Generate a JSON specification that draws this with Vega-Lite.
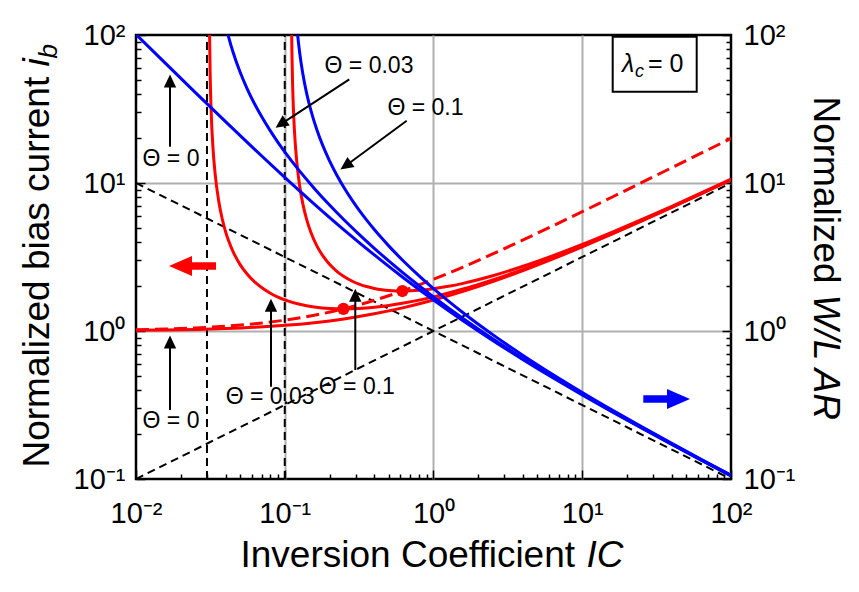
{
  "$schema": "https://vega.github.io/schema/vega-lite/v6.json",
  "width": 595,
  "height": 444,
  "autosize": {"type": "none"},
  "padding": {"left": 136, "top": 35, "right": 128, "bottom": 113},
  "background": "white",
  "datasets": {
    "guides": [
      {"g": "sqrt", "ic": 0.01, "v": 0.1}, {"g": "sqrt", "ic": 100, "v": 10},
      {"g": "isqrt", "ic": 0.01, "v": 10}, {"g": "isqrt", "ic": 100, "v": 0.1},
      {"g": "v003", "ic": 0.03, "v": 0.1}, {"g": "v003", "ic": 0.03, "v": 100},
      {"g": "v01", "ic": 0.1, "v": 0.1}, {"g": "v01", "ic": 0.1, "v": 100}
    ],
    "curves": [
      {"curve": "ibdash", "ic": 0.01, "v": 1.0198}, {"curve": "ibdash", "ic": 0.0158, "v": 1.0311},
      {"curve": "ibdash", "ic": 0.025, "v": 1.0488}, {"curve": "ibdash", "ic": 0.04, "v": 1.077},
      {"curve": "ibdash", "ic": 0.063, "v": 1.1189}, {"curve": "ibdash", "ic": 0.1, "v": 1.1832},
      {"curve": "ibdash", "ic": 0.158, "v": 1.2775}, {"curve": "ibdash", "ic": 0.25, "v": 1.4142},
      {"curve": "ibdash", "ic": 0.4, "v": 1.6125}, {"curve": "ibdash", "ic": 0.63, "v": 1.8762},
      {"curve": "ibdash", "ic": 1, "v": 2.2361}, {"curve": "ibdash", "ic": 1.58, "v": 2.7055},
      {"curve": "ibdash", "ic": 2.5, "v": 3.3166}, {"curve": "ibdash", "ic": 4, "v": 4.1231},
      {"curve": "ibdash", "ic": 6.3, "v": 5.1186}, {"curve": "ibdash", "ic": 10, "v": 6.4031},
      {"curve": "ibdash", "ic": 15.8, "v": 8.0125}, {"curve": "ibdash", "ic": 25, "v": 10.0499},
      {"curve": "ibdash", "ic": 40, "v": 12.6886}, {"curve": "ibdash", "ic": 63, "v": 15.906},
      {"curve": "ibdash", "ic": 100, "v": 20.025},

      {"curve": "ib0", "ic": 0.01, "v": 1.0099}, {"curve": "ib0", "ic": 0.0158, "v": 1.0156},
      {"curve": "ib0", "ic": 0.025, "v": 1.0244}, {"curve": "ib0", "ic": 0.04, "v": 1.0385},
      {"curve": "ib0", "ic": 0.063, "v": 1.0595}, {"curve": "ib0", "ic": 0.1, "v": 1.0916},
      {"curve": "ib0", "ic": 0.158, "v": 1.1388}, {"curve": "ib0", "ic": 0.25, "v": 1.2071},
      {"curve": "ib0", "ic": 0.4, "v": 1.3062}, {"curve": "ib0", "ic": 0.63, "v": 1.4381},
      {"curve": "ib0", "ic": 1, "v": 1.618}, {"curve": "ib0", "ic": 1.58, "v": 1.8528},
      {"curve": "ib0", "ic": 2.5, "v": 2.1583}, {"curve": "ib0", "ic": 4, "v": 2.5616},
      {"curve": "ib0", "ic": 6.3, "v": 3.0593}, {"curve": "ib0", "ic": 10, "v": 3.7016},
      {"curve": "ib0", "ic": 15.8, "v": 4.5063}, {"curve": "ib0", "ic": 25, "v": 5.5249},
      {"curve": "ib0", "ic": 40, "v": 6.8443}, {"curve": "ib0", "ic": 63, "v": 8.453},
      {"curve": "ib0", "ic": 100, "v": 10.5125},

      {"curve": "ib003", "ic": 0.0311, "v": 164.9}, {"curve": "ib003", "ic": 0.0312, "v": 110.27},
      {"curve": "ib003", "ic": 0.0315, "v": 55.68}, {"curve": "ib003", "ic": 0.032, "v": 30.87},
      {"curve": "ib003", "ic": 0.033, "v": 16.69}, {"curve": "ib003", "ic": 0.034, "v": 11.66},
      {"curve": "ib003", "ic": 0.036, "v": 7.516}, {"curve": "ib003", "ic": 0.038, "v": 5.709},
      {"curve": "ib003", "ic": 0.04, "v": 4.697}, {"curve": "ib003", "ic": 0.042, "v": 4.05},
      {"curve": "ib003", "ic": 0.045, "v": 3.425}, {"curve": "ib003", "ic": 0.05, "v": 2.821},
      {"curve": "ib003", "ic": 0.056, "v": 2.417}, {"curve": "ib003", "ic": 0.063, "v": 2.138},
      {"curve": "ib003", "ic": 0.071, "v": 1.942}, {"curve": "ib003", "ic": 0.08, "v": 1.8},
      {"curve": "ib003", "ic": 0.09, "v": 1.695}, {"curve": "ib003", "ic": 0.1, "v": 1.623},
      {"curve": "ib003", "ic": 0.126, "v": 1.515}, {"curve": "ib003", "ic": 0.158, "v": 1.453},
      {"curve": "ib003", "ic": 0.2, "v": 1.42}, {"curve": "ib003", "ic": 0.25, "v": 1.4116},
      {"curve": "ib003", "ic": 0.316, "v": 1.4213}, {"curve": "ib003", "ic": 0.4, "v": 1.4481},
      {"curve": "ib003", "ic": 0.5, "v": 1.488}, {"curve": "ib003", "ic": 0.63, "v": 1.5438},
      {"curve": "ib003", "ic": 0.8, "v": 1.6172}, {"curve": "ib003", "ic": 1, "v": 1.7006},
      {"curve": "ib003", "ic": 1.58, "v": 1.9203}, {"curve": "ib003", "ic": 2.5, "v": 2.2157},
      {"curve": "ib003", "ic": 4, "v": 2.6117}, {"curve": "ib003", "ic": 6.3, "v": 3.1045},
      {"curve": "ib003", "ic": 10, "v": 3.7431}, {"curve": "ib003", "ic": 15.8, "v": 4.5451},
      {"curve": "ib003", "ic": 25, "v": 5.5618}, {"curve": "ib003", "ic": 40, "v": 6.8796},
      {"curve": "ib003", "ic": 63, "v": 8.4871}, {"curve": "ib003", "ic": 100, "v": 10.5458},

      {"curve": "ib01", "ic": 0.1111, "v": 121.3}, {"curve": "ib01", "ic": 0.1115, "v": 89.29},
      {"curve": "ib01", "ic": 0.112, "v": 67.29}, {"curve": "ib01", "ic": 0.113, "v": 45.29},
      {"curve": "ib01", "ic": 0.115, "v": 27.7}, {"curve": "ib01", "ic": 0.118, "v": 17.8},
      {"curve": "ib01", "ic": 0.122, "v": 12.3}, {"curve": "ib01", "ic": 0.126, "v": 9.554},
      {"curve": "ib01", "ic": 0.132, "v": 7.308}, {"curve": "ib01", "ic": 0.14, "v": 5.714},
      {"curve": "ib01", "ic": 0.15, "v": 4.622}, {"curve": "ib01", "ic": 0.165, "v": 3.733},
      {"curve": "ib01", "ic": 0.18, "v": 3.229}, {"curve": "ib01", "ic": 0.2, "v": 2.824},
      {"curve": "ib01", "ic": 0.225, "v": 2.522}, {"curve": "ib01", "ic": 0.25, "v": 2.334},
      {"curve": "ib01", "ic": 0.285, "v": 2.168}, {"curve": "ib01", "ic": 0.316, "v": 2.0745},
      {"curve": "ib01", "ic": 0.36, "v": 1.9887}, {"curve": "ib01", "ic": 0.4, "v": 1.9396},
      {"curve": "ib01", "ic": 0.45, "v": 1.9015}, {"curve": "ib01", "ic": 0.5, "v": 1.8795},
      {"curve": "ib01", "ic": 0.63, "v": 1.8634}, {"curve": "ib01", "ic": 0.8, "v": 1.8837},
      {"curve": "ib01", "ic": 1, "v": 1.9304}, {"curve": "ib01", "ic": 1.26, "v": 2.0038},
      {"curve": "ib01", "ic": 1.58, "v": 2.0989}, {"curve": "ib01", "ic": 2.5, "v": 2.3623},
      {"curve": "ib01", "ic": 4, "v": 2.7368}, {"curve": "ib01", "ic": 6.3, "v": 3.2154},
      {"curve": "ib01", "ic": 10, "v": 3.8438}, {"curve": "ib01", "ic": 15.8, "v": 4.6386},
      {"curve": "ib01", "ic": 25, "v": 5.6498}, {"curve": "ib01", "ic": 40, "v": 6.9634},
      {"curve": "ib01", "ic": 63, "v": 8.568}, {"curve": "ib01", "ic": 100, "v": 10.6242},

      {"curve": "ar0", "ic": 0.01, "v": 100.99}, {"curve": "ar0", "ic": 0.0158, "v": 64.28},
      {"curve": "ar0", "ic": 0.025, "v": 40.98}, {"curve": "ar0", "ic": 0.04, "v": 25.96},
      {"curve": "ar0", "ic": 0.063, "v": 16.82}, {"curve": "ar0", "ic": 0.1, "v": 10.916},
      {"curve": "ar0", "ic": 0.158, "v": 7.207}, {"curve": "ar0", "ic": 0.25, "v": 4.828},
      {"curve": "ar0", "ic": 0.4, "v": 3.266}, {"curve": "ar0", "ic": 0.63, "v": 2.283},
      {"curve": "ar0", "ic": 1, "v": 1.618}, {"curve": "ar0", "ic": 1.58, "v": 1.1726},
      {"curve": "ar0", "ic": 2.5, "v": 0.8633}, {"curve": "ar0", "ic": 4, "v": 0.6404},
      {"curve": "ar0", "ic": 6.3, "v": 0.4856}, {"curve": "ar0", "ic": 10, "v": 0.3702},
      {"curve": "ar0", "ic": 15.8, "v": 0.2852}, {"curve": "ar0", "ic": 25, "v": 0.221},
      {"curve": "ar0", "ic": 40, "v": 0.1711}, {"curve": "ar0", "ic": 63, "v": 0.1342},
      {"curve": "ar0", "ic": 100, "v": 0.1051},

      {"curve": "ar003", "ic": 0.036, "v": 208.8}, {"curve": "ar003", "ic": 0.038, "v": 150.24},
      {"curve": "ar003", "ic": 0.04, "v": 117.43}, {"curve": "ar003", "ic": 0.042, "v": 96.43},
      {"curve": "ar003", "ic": 0.045, "v": 76.11}, {"curve": "ar003", "ic": 0.05, "v": 56.43},
      {"curve": "ar003", "ic": 0.056, "v": 43.16}, {"curve": "ar003", "ic": 0.063, "v": 33.94},
      {"curve": "ar003", "ic": 0.071, "v": 27.35}, {"curve": "ar003", "ic": 0.08, "v": 22.49},
      {"curve": "ar003", "ic": 0.09, "v": 18.83}, {"curve": "ar003", "ic": 0.1, "v": 16.23},
      {"curve": "ar003", "ic": 0.126, "v": 12.02}, {"curve": "ar003", "ic": 0.158, "v": 9.196},
      {"curve": "ar003", "ic": 0.2, "v": 7.101}, {"curve": "ar003", "ic": 0.25, "v": 5.646},
      {"curve": "ar003", "ic": 0.316, "v": 4.498}, {"curve": "ar003", "ic": 0.4, "v": 3.62},
      {"curve": "ar003", "ic": 0.5, "v": 2.976}, {"curve": "ar003", "ic": 0.63, "v": 2.4505},
      {"curve": "ar003", "ic": 0.8, "v": 2.0215}, {"curve": "ar003", "ic": 1, "v": 1.7006},
      {"curve": "ar003", "ic": 1.58, "v": 1.2154}, {"curve": "ar003", "ic": 2.5, "v": 0.8863},
      {"curve": "ar003", "ic": 4, "v": 0.6529}, {"curve": "ar003", "ic": 6.3, "v": 0.4928},
      {"curve": "ar003", "ic": 10, "v": 0.3743}, {"curve": "ar003", "ic": 15.8, "v": 0.2877},
      {"curve": "ar003", "ic": 25, "v": 0.2225}, {"curve": "ar003", "ic": 40, "v": 0.172},
      {"curve": "ar003", "ic": 63, "v": 0.1347}, {"curve": "ar003", "ic": 100, "v": 0.1055},

      {"curve": "ar01", "ic": 0.118, "v": 150.83}, {"curve": "ar01", "ic": 0.122, "v": 100.83},
      {"curve": "ar01", "ic": 0.126, "v": 75.83}, {"curve": "ar01", "ic": 0.132, "v": 55.37},
      {"curve": "ar01", "ic": 0.14, "v": 40.82}, {"curve": "ar01", "ic": 0.15, "v": 30.81},
      {"curve": "ar01", "ic": 0.165, "v": 22.62}, {"curve": "ar01", "ic": 0.18, "v": 17.94},
      {"curve": "ar01", "ic": 0.2, "v": 14.12}, {"curve": "ar01", "ic": 0.225, "v": 11.21},
      {"curve": "ar01", "ic": 0.25, "v": 9.336}, {"curve": "ar01", "ic": 0.285, "v": 7.608},
      {"curve": "ar01", "ic": 0.316, "v": 6.565}, {"curve": "ar01", "ic": 0.36, "v": 5.524},
      {"curve": "ar01", "ic": 0.4, "v": 4.849}, {"curve": "ar01", "ic": 0.45, "v": 4.226},
      {"curve": "ar01", "ic": 0.5, "v": 3.759}, {"curve": "ar01", "ic": 0.63, "v": 2.958},
      {"curve": "ar01", "ic": 0.8, "v": 2.3546}, {"curve": "ar01", "ic": 1, "v": 1.9304},
      {"curve": "ar01", "ic": 1.26, "v": 1.5903}, {"curve": "ar01", "ic": 1.58, "v": 1.3284},
      {"curve": "ar01", "ic": 2.5, "v": 0.9449}, {"curve": "ar01", "ic": 4, "v": 0.6842},
      {"curve": "ar01", "ic": 6.3, "v": 0.5104}, {"curve": "ar01", "ic": 10, "v": 0.3844},
      {"curve": "ar01", "ic": 15.8, "v": 0.2936}, {"curve": "ar01", "ic": 25, "v": 0.226},
      {"curve": "ar01", "ic": 40, "v": 0.1741}, {"curve": "ar01", "ic": 63, "v": 0.136},
      {"curve": "ar01", "ic": 100, "v": 0.1062}
    ],
    "optima": [
      {"theta": "0.03", "ic": 0.248, "v": 1.412},
      {"theta": "0.1", "ic": 0.618, "v": 1.862}
    ],
    "arrowsUp": [
      {"ic": 0.01693, "v": 17.59, "ic2": 0.01693, "v2": 48.9},
      {"ic": 0.01693, "v": 0.2925, "ic2": 0.01693, "v2": 0.8427},
      {"ic": 0.0808, "v": 0.4203, "ic2": 0.0808, "v2": 1.4914},
      {"ic": 0.298, "v": 0.5451, "ic2": 0.298, "v2": 1.7427}
    ],
    "arrowsDiag": [
      {"ic": 0.2716, "v": 50.2, "ic2": 0.09421, "v2": 25.0},
      {"ic": 0.6604, "v": 26.36, "ic2": 0.2569, "v2": 13.07}
    ],
    "labels": [
      {"ic": 0.01719, "v": 13.03, "t": "Θ = 0"},
      {"ic": 0.3684, "v": 55.1, "t": "Θ = 0.03"},
      {"ic": 0.8835, "v": 28.8, "t": "Θ = 0.1"},
      {"ic": 0.01719, "v": 0.2212, "t": "Θ = 0"},
      {"ic": 0.0798, "v": 0.3211, "t": "Θ = 0.03"},
      {"ic": 0.3051, "v": 0.3753, "t": "Θ = 0.1"}
    ]
  },
  "resolve": {"axis": {"x": "independent", "y": "independent"}},
  "layer": [
    {
      "data": {"name": "guides"},
      "mark": {"type": "line", "color": "black", "strokeWidth": 2, "strokeDash": [8, 5], "clip": true},
      "encoding": {
        "x": {
          "field": "ic", "type": "quantitative",
          "scale": {"type": "log", "domain": [0.01, 100]},
          "axis": {
            "orient": "bottom",
            "values": [0.01, 0.02, 0.03, 0.04, 0.05, 0.06, 0.07, 0.08, 0.09, 0.1, 0.2, 0.3, 0.4, 0.5, 0.6, 0.7, 0.8, 0.9, 1, 2, 3, 4, 5, 6, 7, 8, 9, 10, 20, 30, 40, 50, 60, 70, 80, 90, 100],
            "labelExpr": "datum.value == 0.01 ? '10⁻²' : datum.value == 0.1 ? '10⁻¹' : datum.value == 1 ? '10⁰' : datum.value == 10 ? '10¹' : datum.value == 100 ? '10²' : ''",
            "labelFlush": false, "labelOverlap": false, "labelPadding": 29,
            "tickSize": {"condition": {"test": "indexof([0.01, 0.1, 1, 10, 100], datum.value) >= 0", "value": -9}, "value": -5},
            "tickWidth": 1.5,
            "grid": true, "gridColor": "#b0b0b0", "gridWidth": 2,
            "gridOpacity": {"condition": {"test": "indexof([0.1, 1, 10], datum.value) >= 0", "value": 1}, "value": 0},
            "title": "Inversion Coefficient", "titleAlign": "left", "titleAnchor": "start",
            "titleX": 104, "titleY": 87, "titleBaseline": "alphabetic"
          }
        },
        "y": {
          "field": "v", "type": "quantitative",
          "scale": {"type": "log", "domain": [0.1, 100]},
          "axis": {
            "orient": "left",
            "values": [0.1, 0.2, 0.3, 0.4, 0.5, 0.6, 0.7, 0.8, 0.9, 1, 2, 3, 4, 5, 6, 7, 8, 9, 10, 20, 30, 40, 50, 60, 70, 80, 90, 100],
            "labelExpr": "datum.value == 0.1 ? '10⁻¹' : datum.value == 1 ? '10⁰' : datum.value == 10 ? '10¹' : datum.value == 100 ? '10²' : ''",
            "labelFlush": false, "labelOverlap": false, "labelPadding": 20,
            "tickSize": {"condition": {"test": "indexof([0.1, 1, 10, 100], datum.value) >= 0", "value": -9}, "value": -5},
            "tickWidth": 1.5,
            "grid": true, "gridColor": "#b0b0b0", "gridWidth": 2,
            "gridOpacity": {"condition": {"test": "indexof([1, 10], datum.value) >= 0", "value": 1}, "value": 0},
            "title": "Normalized bias current", "titleAngle": 270, "titleAlign": "left", "titleAnchor": "start",
            "titleX": -88, "titleY": 432, "titleBaseline": "alphabetic"
          }
        },
        "detail": {"field": "g"}
      }
    },
    {
      "data": {"name": "curves"},
      "transform": [{"filter": "datum.curve == 'ibdash'"}],
      "mark": {"type": "line", "color": "#ff0000", "strokeWidth": 3, "strokeDash": [13, 6], "interpolate": "monotone", "clip": true},
      "encoding": {
        "x": {"field": "ic", "type": "quantitative", "scale": {"type": "log", "domain": [0.01, 100]}, "axis": null},
        "y": {
          "field": "v", "type": "quantitative", "scale": {"type": "log", "domain": [0.1, 100]},
          "axis": {
            "orient": "right", "labels": false, "ticks": false, "domain": false, "grid": false,
            "title": "W/L AR", "titleFontStyle": "italic", "titleAngle": 90, "titleAlign": "left", "titleAnchor": "start",
            "titleX": 82, "titleY": 259, "titleBaseline": "alphabetic"
          }
        }
      }
    },
    {
      "data": {"name": "curves"},
      "transform": [{"filter": "indexof(['ib0', 'ib003', 'ib01'], datum.curve) >= 0"}],
      "mark": {"type": "line", "color": "#ff0000", "strokeWidth": 3, "interpolate": "monotone", "clip": true},
      "encoding": {
        "x": {
          "field": "ic", "type": "quantitative", "scale": {"type": "log", "domain": [0.01, 100]},
          "axis": {
            "orient": "bottom", "labels": false, "ticks": false, "domain": false, "grid": false,
            "title": "IC", "titleFontStyle": "italic", "titleAlign": "left", "titleAnchor": "start",
            "titleX": 450, "titleY": 87, "titleBaseline": "alphabetic"
          }
        },
        "y": {
          "field": "v", "type": "quantitative", "scale": {"type": "log", "domain": [0.1, 100]},
          "axis": {
            "orient": "left", "labels": false, "ticks": false, "domain": false, "grid": false,
            "title": "i", "titleFontStyle": "italic", "titleAngle": 270, "titleAlign": "left", "titleAnchor": "start",
            "titleX": -88, "titleY": 31, "titleBaseline": "alphabetic"
          }
        },
        "detail": {"field": "curve"}
      }
    },
    {
      "data": {"name": "curves"},
      "transform": [{"filter": "indexof(['ar0', 'ar003', 'ar01'], datum.curve) >= 0"}],
      "mark": {"type": "line", "color": "#0000ff", "strokeWidth": 3, "interpolate": "monotone", "clip": true},
      "encoding": {
        "x": {"field": "ic", "type": "quantitative", "scale": {"type": "log", "domain": [0.01, 100]}, "axis": null},
        "y": {
          "field": "v", "type": "quantitative", "scale": {"type": "log", "domain": [0.1, 100]},
          "axis": {
            "orient": "right",
            "values": [0.1, 0.2, 0.3, 0.4, 0.5, 0.6, 0.7, 0.8, 0.9, 1, 2, 3, 4, 5, 6, 7, 8, 9, 10, 20, 30, 40, 50, 60, 70, 80, 90, 100],
            "labelExpr": "datum.value == 0.1 ? '10⁻¹' : datum.value == 1 ? '10⁰' : datum.value == 10 ? '10¹' : datum.value == 100 ? '10²' : ''",
            "labelFlush": false, "labelOverlap": false, "labelPadding": 21,
            "tickSize": {"condition": {"test": "indexof([0.1, 1, 10, 100], datum.value) >= 0", "value": -9}, "value": -5},
            "tickWidth": 1.5, "grid": false,
            "title": "Normalized", "titleAngle": 90, "titleAlign": "left", "titleAnchor": "start",
            "titleX": 82, "titleY": 61, "titleBaseline": "alphabetic"
          }
        },
        "detail": {"field": "curve"}
      }
    },
    {
      "data": {"name": "optima"},
      "mark": {"type": "circle", "color": "#ff0000", "opacity": 1, "size": 150},
      "encoding": {
        "x": {"field": "ic", "type": "quantitative", "scale": {"type": "log", "domain": [0.01, 100]}, "axis": null},
        "y": {
          "field": "v", "type": "quantitative", "scale": {"type": "log", "domain": [0.1, 100]},
          "axis": {
            "orient": "left", "labels": false, "ticks": false, "domain": false, "grid": false,
            "title": "b", "titleFontStyle": "italic", "titleFontSize": 26, "titleAngle": 270, "titleAlign": "left", "titleAnchor": "start",
            "titleX": -80, "titleY": 23, "titleBaseline": "alphabetic"
          }
        }
      }
    },
    {
      "data": {"name": "arrowsUp"},
      "mark": {"type": "rule", "color": "black", "strokeWidth": 2},
      "encoding": {
        "x": {"field": "ic", "type": "quantitative", "scale": {"type": "log", "domain": [0.01, 100]}, "axis": null},
        "y": {"field": "v", "type": "quantitative", "scale": {"type": "log", "domain": [0.1, 100]}, "axis": null},
        "y2": {"field": "v2"}
      }
    },
    {
      "data": {"name": "arrowsUp"},
      "mark": {"type": "point", "shape": "M0,-1L0.95,1L-0.95,1Z", "filled": true, "color": "black", "opacity": 1, "size": 169},
      "encoding": {
        "x": {"field": "ic2", "type": "quantitative", "scale": {"type": "log", "domain": [0.01, 100]}, "axis": null},
        "y": {"field": "v2", "type": "quantitative", "scale": {"type": "log", "domain": [0.1, 100]}, "axis": null}
      }
    },
    {
      "data": {"name": "arrowsDiag"},
      "mark": {"type": "rule", "color": "black", "strokeWidth": 2},
      "encoding": {
        "x": {"field": "ic", "type": "quantitative", "scale": {"type": "log", "domain": [0.01, 100]}, "axis": null},
        "y": {"field": "v", "type": "quantitative", "scale": {"type": "log", "domain": [0.1, 100]}, "axis": null},
        "x2": {"field": "ic2"},
        "y2": {"field": "v2"}
      }
    },
    {
      "data": {"name": "arrowsDiag"},
      "mark": {"type": "point", "shape": "M0,-1L0.95,1L-0.95,1Z", "filled": true, "color": "black", "opacity": 1, "size": 169, "angle": 235},
      "encoding": {
        "x": {"field": "ic2", "type": "quantitative", "scale": {"type": "log", "domain": [0.01, 100]}, "axis": null},
        "y": {"field": "v2", "type": "quantitative", "scale": {"type": "log", "domain": [0.1, 100]}, "axis": null}
      }
    },
    {
      "data": {"values": [{"ic": 0.01991, "ic2": 0.0345, "v": 2.749}]},
      "mark": {"type": "rule", "color": "#ff0000", "strokeWidth": 7.5},
      "encoding": {
        "x": {"field": "ic", "type": "quantitative", "scale": {"type": "log", "domain": [0.01, 100]}, "axis": null},
        "x2": {"field": "ic2"},
        "y": {"field": "v", "type": "quantitative", "scale": {"type": "log", "domain": [0.1, 100]}, "axis": null}
      }
    },
    {
      "data": {"values": [{"ic": 0.01991, "v": 2.749}]},
      "mark": {"type": "point", "shape": "M-1,0L1,-0.87L1,0.87Z", "filled": true, "color": "#ff0000", "opacity": 1, "size": 529},
      "encoding": {
        "x": {"field": "ic", "type": "quantitative", "scale": {"type": "log", "domain": [0.01, 100]}, "axis": null},
        "y": {"field": "v", "type": "quantitative", "scale": {"type": "log", "domain": [0.1, 100]}, "axis": null}
      }
    },
    {
      "data": {"values": [{"ic": 25.73, "ic2": 44.37, "v": 0.3471}]},
      "mark": {"type": "rule", "color": "#0000ff", "strokeWidth": 7.5},
      "encoding": {
        "x": {"field": "ic", "type": "quantitative", "scale": {"type": "log", "domain": [0.01, 100]}, "axis": null},
        "x2": {"field": "ic2"},
        "y": {"field": "v", "type": "quantitative", "scale": {"type": "log", "domain": [0.1, 100]}, "axis": null}
      }
    },
    {
      "data": {"values": [{"ic": 44.37, "v": 0.3471}]},
      "mark": {"type": "point", "shape": "M-1,0L1,-0.87L1,0.87Z", "filled": true, "color": "#0000ff", "opacity": 1, "size": 529, "angle": 180},
      "encoding": {
        "x": {"field": "ic", "type": "quantitative", "scale": {"type": "log", "domain": [0.01, 100]}, "axis": null},
        "y": {"field": "v", "type": "quantitative", "scale": {"type": "log", "domain": [0.1, 100]}, "axis": null}
      }
    },
    {
      "data": {"name": "labels"},
      "mark": {"type": "text", "fontSize": 23, "align": "center", "baseline": "alphabetic", "color": "black"},
      "encoding": {
        "x": {"field": "ic", "type": "quantitative", "scale": {"type": "log", "domain": [0.01, 100]}, "axis": null},
        "y": {"field": "v", "type": "quantitative", "scale": {"type": "log", "domain": [0.1, 100]}, "axis": null},
        "text": {"field": "t"}
      }
    },
    {
      "data": {"values": [{"ic": 16.02, "ic2": 58.81, "v": 41.4, "v2": 97.4}]},
      "mark": {"type": "rect", "fill": "white", "stroke": "black", "strokeWidth": 2},
      "encoding": {
        "x": {"field": "ic", "type": "quantitative", "scale": {"type": "log", "domain": [0.01, 100]}, "axis": null},
        "x2": {"field": "ic2"},
        "y": {"field": "v", "type": "quantitative", "scale": {"type": "log", "domain": [0.1, 100]}, "axis": null},
        "y2": {"field": "v2"}
      }
    },
    {
      "data": {"values": [{"ic": 18.5, "v": 56.49, "t": "λ"}]},
      "mark": {"type": "text", "fontSize": 25, "fontStyle": "italic", "align": "left", "baseline": "alphabetic", "color": "black"},
      "encoding": {
        "x": {"field": "ic", "type": "quantitative", "scale": {"type": "log", "domain": [0.01, 100]}, "axis": null},
        "y": {"field": "v", "type": "quantitative", "scale": {"type": "log", "domain": [0.1, 100]}, "axis": null},
        "text": {"field": "t"}
      }
    },
    {
      "data": {"values": [{"ic": 22.62, "v": 52.27, "t": "c"}]},
      "mark": {"type": "text", "fontSize": 18, "fontStyle": "italic", "align": "left", "baseline": "alphabetic", "color": "black"},
      "encoding": {
        "x": {"field": "ic", "type": "quantitative", "scale": {"type": "log", "domain": [0.01, 100]}, "axis": null},
        "y": {"field": "v", "type": "quantitative", "scale": {"type": "log", "domain": [0.1, 100]}, "axis": null},
        "text": {"field": "t"}
      }
    },
    {
      "data": {"values": [{"ic": 27.67, "v": 56.49, "t": "= 0"}]},
      "mark": {"type": "text", "fontSize": 25, "align": "left", "baseline": "alphabetic", "color": "black"},
      "encoding": {
        "x": {"field": "ic", "type": "quantitative", "scale": {"type": "log", "domain": [0.01, 100]}, "axis": null},
        "y": {"field": "v", "type": "quantitative", "scale": {"type": "log", "domain": [0.1, 100]}, "axis": null},
        "text": {"field": "t"}
      }
    }
  ],
  "config": {
    "font": "Liberation Sans",
    "view": {"stroke": "black", "strokeWidth": 2.5},
    "axis": {
      "labelFont": "Liberation Sans", "titleFont": "Liberation Sans",
      "labelColor": "black", "titleColor": "black", "titleFontWeight": "normal",
      "labelFontSize": 29, "titleFontSize": 37, "tickColor": "black", "domain": false
    }
  }
}
